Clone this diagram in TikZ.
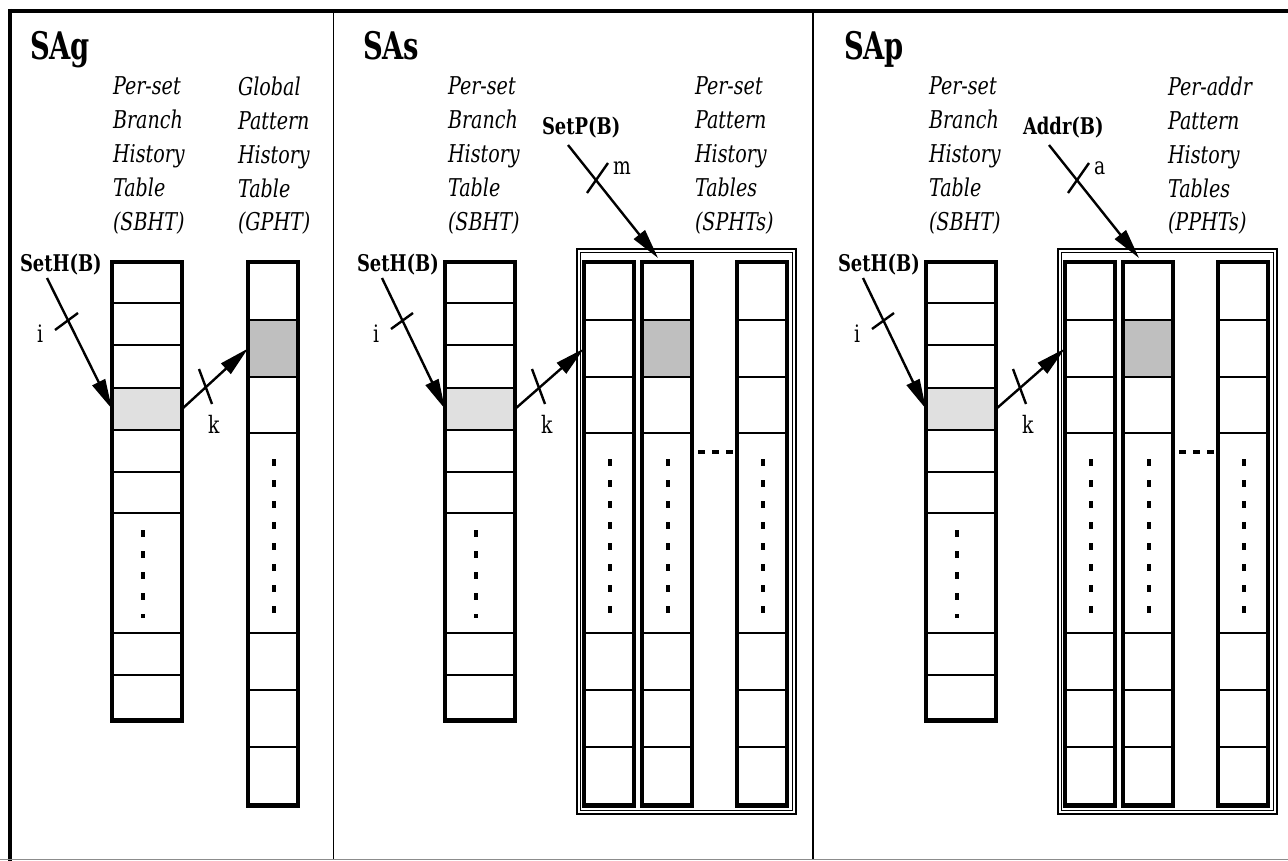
\documentclass[tikz,border=0pt]{standalone}
\usepackage{fontspec}
\setmainfont{DejaVu Serif}[FakeStretch=0.78]
\newfontfamily\titlefont{DejaVu Serif}[FakeStretch=0.72]
\usetikzlibrary{arrows.meta,calc}

% Branch history table of a set: 70 wide, one shaded row, dots for the elided rows.
% #1 left edge, #2 name of the selected row
\newcommand\sbhtable[2]{%
  \node[cellbox, fill=black!12, minimum width=70pt, minimum height=42pt, anchor=north west] (#2) at (#1,388) {};
  \foreach \yy in {303,345,430,472,513,633,675}{\draw[rowline] (#1,\yy) -- ++(70,0);}
  \draw[dotcol] ({#1+31},530) -- ({#1+31},618);
  \node[tabframe, minimum width=70pt, minimum height=458pt, anchor=north west] (#2f) at (#1,262) {};
  \draw[line width=2.5pt] ({#1-1.75},721.5) -- ++(73.5,0);
}
% Pattern history table column: 50 wide.
% #1 left edge, #2 name, #3 fill of the second row
\newcommand\phtcol[3]{%
  \node[cellbox, fill=#3, minimum width=50pt, minimum height=57pt, anchor=north west] (#2r) at (#1,320) {};
  \foreach \yy in {377,433,633,690,747}{\draw[rowline] (#1,\yy) -- ++(50,0);}
  \draw[dotcol] ({#1+26},459) -- ({#1+26},614);
  \node[tabframe, minimum width=50pt, minimum height=543pt, anchor=north west] (#2) at (#1,262) {};
  \draw[line width=2.5pt] ({#1-1.75},806.5) -- ++(53.5,0);
}
% Per-set history panel with a bank of pattern tables.
% #1 x shift, #2 name prefix, #3 title, #4 selector, #5 selector width label,
% #6 caption of the pattern tables, #7 x of that caption
\newcommand\setpanel[7]{%
  \begin{scope}[xshift=#1pt]
    \node[ptitle] (#2t) at (363,60) {#3};
    \node[caption] (#2ca) at (448,77) {Per-set\\Branch\\History\\Table\\(SBHT)};
    \node[caption] (#2cb) at (#7,77) {#6};
    \node[srclabel] (#2h) at (357,272) {SetH(B)};
    \node[srclabel] (#2p) at (542,135) {#4};
    \node[thinbox, minimum width=219pt, minimum height=565pt, anchor=north west] (#2box) at (577,249) {};
    \node[thinbox, minimum width=212pt, minimum height=558pt, anchor=north west] (#2boxin) at (580.5,252.5) {};
    \sbhtable{445}{#2s}
    \phtcol{584}{#2a}{white}
    \phtcol{642}{#2b}{black!25}
    \phtcol{737}{#2c}{white}
    \draw[hdots] (698,452) -- (733,452);
    \coordinate (#2htail) at (382,278);
    \coordinate (#2ptail) at (568,145);
    \draw[ptr] (#2htail) -- (#2s.west);
    \draw[ptr] (#2s.east) -- (#2ar.west);
    \draw[ptr] (#2ptail) -- ($(#2b.north west)+(16,-4)$);
    \draw[tick] (391,329) -- (413,313);
    \draw[tick] (532,369) -- (545,404);
    \draw[tick] (587,193) -- (608,163);
    \node[bitlabel] (#2i) at (373,342) {i};
    \node[bitlabel] (#2k) at (541,433) {k};
    \node[bitlabel] (#2m) at (613,175) {#5};
  \end{scope}
}

\begin{document}
\begin{tikzpicture}[x=1pt,y=-1pt,
  every node/.style={inner sep=0pt, outer sep=0pt},
  ptitle/.style={anchor=base west, font=\titlefont\bfseries\fontsize{38}{40}\selectfont},
  caption/.style={anchor=north west, align=left, font=\itshape\fontsize{24.5}{33.8}\selectfont},
  srclabel/.style={anchor=base west, font=\bfseries\fontsize{23}{26}\selectfont},
  bitlabel/.style={anchor=base west, font=\fontsize{24}{26}\selectfont},
  ptr/.style={line width=2.4pt, -{Triangle[length=30pt,width=14pt]}},
  tick/.style={line width=2.4pt},
  rowline/.style={line width=2.2pt},
  cellbox/.style={draw, line width=2.2pt},
  tabframe/.style={draw, line width=3.8pt},
  thinbox/.style={draw, line width=1.3pt},
  dotcol/.style={line width=3.2pt, dash pattern=on 7pt off 14pt},
  hdots/.style={line width=3.2pt, dash pattern=on 7pt off 7pt},
  border/.style={line width=4pt},
  divider/.style={line width=1.6pt},
]
\useasboundingbox (0,0) rectangle (1288,861);

% outer frame and panel dividers
\draw[border] (8,11) -- (1288,11);
\draw[border] (10,9) -- (10,861);
\draw[divider] (333.5,11) -- (333.5,859);
\draw[divider] (813,11) -- (813,859);
\draw[line width=1.5pt, black!45] (0,859.5) -- (1288,859.5);

% SAg: per-set history, one global pattern table
\node[ptitle] (t1) at (30,60) {SAg};
\node[caption] (c1a) at (113,77) {Per-set\\Branch\\History\\Table\\(SBHT)};
\node[caption] (c1b) at (238,77) {Global\\Pattern\\History\\Table\\(GPHT)};
\node[srclabel] (h1) at (20,272) {SetH(B)};
\sbhtable{112}{s1}
\phtcol{248}{g1}{black!25}
\coordinate (h1tail) at (47,278);
\draw[ptr] (h1tail) -- (s1.west);
\draw[ptr] (s1.east) -- (g1r.west);
\draw[tick] (55,330) -- (78,313);
\draw[tick] (199,369) -- (212,404);
\node[bitlabel] (i1) at (37,342) {i};
\node[bitlabel] (k1) at (208,433) {k};

% SAs and SAp
\setpanel{0}{ps}{SAs}{SetP(B)}{m}{Per-set\\Pattern\\History\\Tables\\(SPHTs)}{695}
\setpanel{481}{pp}{SAp}{Addr(B)}{a}{Per-addr\\Pattern\\History\\Tables\\(PPHTs)}{687}
\end{tikzpicture}
\end{document}
